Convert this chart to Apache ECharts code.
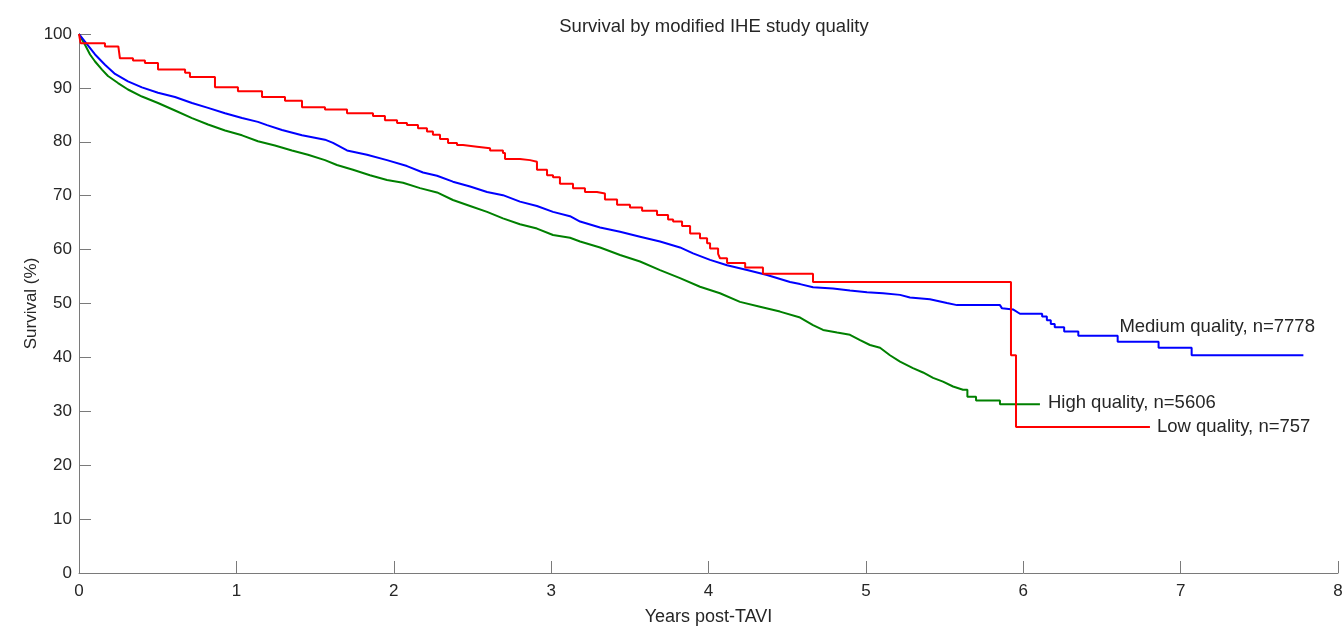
<!DOCTYPE html>
<html>
<head>
<meta charset="utf-8">
<title>Survival by modified IHE study quality</title>
<script src="https://cdn.jsdelivr.net/npm/echarts@6/dist/echarts.min.js"></script>
<style>
  html, body { margin: 0; padding: 0; background: #fff; }
  #chart { width: 1344px; height: 626px; }
</style>
</head>
<body>
<div id="chart"></div>
<script>
// Kaplan-Meier curves: [years, survival %]
const mediumQuality = [
  [0, 100], [0.038, 98.6], [0.102, 96.2], [0.165, 94.3], [0.229, 92.6], [0.311, 91.2],
  [0.4, 90.1], [0.502, 89.1], [0.61, 88.3], [0.718, 87.2], [0.82, 86.3], [0.928, 85.3],
  [1.036, 84.4], [1.137, 83.7], [1.195, 83.1], [1.29, 82.2], [1.417, 81.2], [1.563, 80.4],
  [1.614, 79.8], [1.703, 78.4], [1.83, 77.6], [1.957, 76.6], [2.084, 75.5], [2.186, 74.3],
  [2.275, 73.7], [2.376, 72.6], [2.485, 71.7], [2.593, 70.7], [2.694, 70.1], [2.802, 68.9],
  [2.91, 68.1], [3.012, 67.0], [3.12, 66.2], [3.184, 65.2], [3.311, 64.1], [3.438, 63.3],
  [3.565, 62.4], [3.692, 61.5], [3.819, 60.4], [3.902, 59.3], [4.01, 58.1], [4.118, 57.1],
  [4.245, 56.2], [4.372, 55.3], [4.518, 54.0], [4.582, 53.6], [4.664, 53.0], [4.791, 52.8],
  [4.899, 52.4], [5.007, 52.1], [5.109, 51.9], [5.217, 51.6], [5.28, 51.1], [5.407, 50.8],
  [5.515, 50.1], [5.579, 49.7], [5.852, 49.7], [5.865, 49.1], [5.935, 48.9], [5.979, 48.1],
  [6.12, 48.1], [6.12, 47.6], [6.15, 47.6], [6.15, 46.9], [6.175, 46.9], [6.175, 46.2],
  [6.2, 46.2], [6.2, 45.6], [6.26, 45.6], [6.26, 44.8], [6.35, 44.8], [6.35, 44.0],
  [6.6, 44.0], [6.6, 42.9], [6.86, 42.9], [6.86, 41.8], [7.07, 41.8], [7.07, 40.4],
  [7.78, 40.4]
];

const highQuality = [
  [0, 100], [0.038, 98.0], [0.07, 96.2], [0.102, 94.9], [0.146, 93.4], [0.184, 92.2],
  [0.248, 90.9], [0.311, 89.7], [0.4, 88.4], [0.502, 87.2], [0.61, 85.8], [0.718, 84.4],
  [0.82, 83.2], [0.928, 82.1], [1.036, 81.2], [1.137, 80.1], [1.245, 79.3], [1.353, 78.4],
  [1.455, 77.6], [1.563, 76.6], [1.639, 75.7], [1.741, 74.8], [1.849, 73.8], [1.957, 72.9],
  [2.059, 72.4], [2.167, 71.4], [2.275, 70.6], [2.376, 69.2], [2.485, 68.1], [2.593, 67.0],
  [2.694, 65.8], [2.802, 64.7], [2.91, 63.9], [3.012, 62.7], [3.12, 62.2], [3.184, 61.5],
  [3.311, 60.4], [3.438, 59.0], [3.565, 57.8], [3.692, 56.2], [3.819, 54.7], [3.946, 53.1],
  [4.073, 51.9], [4.2, 50.3], [4.327, 49.4], [4.454, 48.5], [4.582, 47.4], [4.664, 46.0],
  [4.728, 45.1], [4.817, 44.6], [4.899, 44.2], [4.963, 43.2], [5.026, 42.3], [5.09, 41.8],
  [5.153, 40.4], [5.217, 39.2], [5.299, 38.0], [5.363, 37.2], [5.427, 36.2], [5.49, 35.5],
  [5.554, 34.6], [5.617, 34.0], [5.645, 34.0], [5.645, 32.7], [5.7, 32.7], [5.7, 32.0],
  [5.852, 32.0], [5.852, 31.3], [6.106, 31.3]
];

// step curve: each value holds until the next time point
const lowQuality = [
  [0, 100], [0.01, 98.3], [0.165, 97.7], [0.25, 97.4], [0.26, 95.5], [0.343, 95.1],
  [0.419, 94.6], [0.502, 93.4], [0.674, 92.8], [0.705, 92.0], [0.864, 90.1], [1.01, 89.4],
  [1.163, 88.3], [1.309, 87.6], [1.417, 86.4], [1.563, 86.0], [1.703, 85.3], [1.868, 84.8],
  [1.944, 84.0], [2.021, 83.5], [2.084, 83.1], [2.154, 82.5], [2.211, 81.9], [2.249, 81.3],
  [2.294, 80.5], [2.345, 79.8], [2.402, 79.4], [2.44, 79.1], [2.529, 78.8], [2.612, 78.4],
  [2.694, 77.9], [2.707, 76.8], [2.802, 76.6], [2.866, 76.3], [2.91, 74.8], [2.974, 73.8],
  [3.012, 73.4], [3.056, 72.2], [3.139, 71.4], [3.215, 70.7], [3.291, 70.4], [3.342, 69.3],
  [3.419, 68.3], [3.501, 67.8], [3.578, 67.2], [3.673, 66.4], [3.743, 65.6], [3.775, 65.2],
  [3.832, 64.4], [3.883, 63.0], [3.946, 62.1], [3.991, 61.2], [4.01, 60.2], [4.061, 59.2],
  [4.073, 58.4], [4.118, 57.5], [4.233, 56.7], [4.346, 55.5], [4.664, 54.0], [5.922, 40.4],
  [5.954, 27.1], [6.805, 27.1]
];

const seriesNames = ['Medium quality, n=7778', 'High quality, n=5606', 'Low quality, n=757'];

const chart = echarts.init(document.getElementById('chart'));
const font = 'Helvetica, "Liberation Sans", Arial, sans-serif';
const textColor = '#262626';
const axisColor = '#7a7a7a';

chart.setOption({
  animation: false,
  backgroundColor: '#fff',
  textStyle: { fontFamily: font },
  title: {
    text: 'Survival by modified IHE study quality',
    left: 709, top: 12, textAlign: 'center',
    textStyle: { fontFamily: font, fontSize: 18.5, fontWeight: 'normal', color: textColor }
  },
  grid: { left: 79, right: 6, top: 34, bottom: 53, outerBoundsMode: 'none' },
  xAxis: {
    type: 'value', min: 0, max: 8, interval: 1,
    name: 'Years post-TAVI', nameLocation: 'middle', nameGap: 35, nameMoveOverlap: false,
    nameTextStyle: { fontFamily: font, fontSize: 18, color: textColor },
    axisLine: { lineStyle: { color: axisColor, width: 1 } },
    axisTick: { inside: true, length: 12, lineStyle: { color: axisColor } },
    axisLabel: { margin: 10, fontFamily: font, fontSize: 17, color: textColor },
    splitLine: { show: false }
  },
  yAxis: {
    type: 'value', min: 0, max: 100, interval: 10,
    name: 'Survival (%)', nameLocation: 'middle', nameGap: 39, nameRotate: 90,
    nameMoveOverlap: false,
    nameTextStyle: { fontFamily: font, fontSize: 17, color: textColor },
    axisLine: { show: true, lineStyle: { color: axisColor, width: 1 } },
    axisTick: { show: true, inside: true, length: 12, lineStyle: { color: axisColor } },
    axisLabel: { margin: 7, fontFamily: font, fontSize: 17, color: textColor },
    splitLine: { show: false }
  },
  series: [
    {
      name: seriesNames[0], type: 'line', data: mediumQuality,
      showSymbol: false, symbol: 'none',
      lineStyle: { color: '#0000ff', width: 2 },
      endLabel: {
        show: true, formatter: seriesNames[0], position: 'right', distance: 5,
        offset: [-189, -28], fontFamily: font, fontSize: 18.5, color: textColor
      },
      z: 3
    },
    {
      name: seriesNames[1], type: 'line', data: highQuality,
      showSymbol: false, symbol: 'none',
      lineStyle: { color: '#008000', width: 2 },
      endLabel: {
        show: true, formatter: seriesNames[1], position: 'right', distance: 8,
        offset: [0, -1], fontFamily: font, fontSize: 18.5, color: textColor
      },
      z: 2
    },
    {
      name: seriesNames[2], type: 'line', data: lowQuality, step: 'end',
      showSymbol: false, symbol: 'none',
      lineStyle: { color: '#ff0000', width: 2 },
      endLabel: {
        show: true, formatter: seriesNames[2], position: 'right', distance: 7,
        fontFamily: font, fontSize: 18.5, color: textColor
      },
      z: 4
    }
  ]
});
</script>
</body>
</html>
